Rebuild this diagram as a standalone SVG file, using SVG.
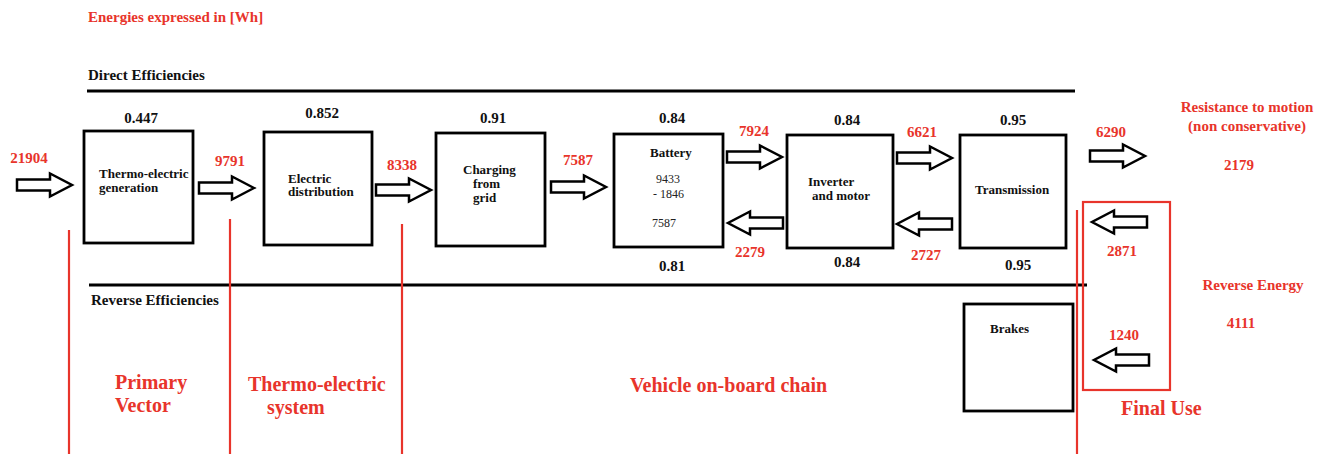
<svg xmlns="http://www.w3.org/2000/svg" width="1333" height="454" viewBox="0 0 1333 454">
<style>
text{font-family:"Liberation Serif","Times New Roman",Times,serif;font-weight:bold}
.red{fill:#e8342b}
.blk{fill:#111}
.t15{font-size:15px}
.t13{font-size:13px}
.t20{font-size:20px}
.num{font-size:12px;font-weight:normal;fill:#222}
.box{fill:#fff;stroke:#000;stroke-width:2.8}
.arr{fill:#fff;stroke:#000;stroke-width:2.5;stroke-linejoin:miter}
.rl{stroke:#e8342b;stroke-width:2.2;fill:none}
.hl{stroke:#000;stroke-width:2.8}
</style>
<defs>
<path id="aR" class="arr" d="M0,-5.5 H33 V-11.5 L55,0 L33,11.5 V5.5 H0 Z"/>
<path id="aL" class="arr" d="M55,-5.5 H22 V-11.5 L0,0 L22,11.5 V5.5 H55 Z"/>
</defs>
<rect width="1333" height="454" fill="#fff"/>

<g id="headers">
<text x="88" y="22" class="red t15">Energies expressed in [Wh]</text>
<text x="88" y="80" class="blk t15">Direct Efficiencies</text>
<line x1="87" y1="91" x2="1075" y2="91" class="hl"/>
<line x1="89" y1="285" x2="1087" y2="285" class="hl"/>
<text x="91" y="305" class="blk t15">Reverse Efficiencies</text>
</g>

<g id="sections">
<line x1="69" y1="230" x2="69" y2="454" class="rl"/>
<line x1="230" y1="219" x2="230" y2="454" class="rl"/>
<line x1="402" y1="224" x2="402" y2="454" class="rl"/>
<line x1="1077" y1="210" x2="1077" y2="454" class="rl"/>
<rect x="1083" y="202" width="87" height="188" class="rl"/>
<text x="115" y="389" class="red t20">Primary</text>
<text x="115" y="412" class="red t20">Vector</text>
<text x="248" y="391" class="red t20">Thermo-electric</text>
<text x="267" y="414" class="red t20">system</text>
<text x="630" y="392" class="red t20">Vehicle on-board chain</text>
<text x="1121" y="415" class="red t20">Final Use</text>
<text x="1247" y="112" class="red t15" text-anchor="middle">Resistance to motion</text>
<text x="1247" y="131" class="red t15" text-anchor="middle">(non conservative)</text>
<text x="1239" y="170" class="red t15" text-anchor="middle">2179</text>
<text x="1253" y="290" class="red t15" text-anchor="middle">Reverse Energy</text>
<text x="1241" y="328" class="red t15" text-anchor="middle">4111</text>
</g>

<g id="node-thermo">
<rect x="84" y="131" width="109" height="112" class="box"/>
<text x="99" y="178" class="blk t13">Thermo-electric</text>
<text x="99" y="192" class="blk t13">generation</text>
<text x="141" y="123" class="blk t15" text-anchor="middle">0.447</text>
</g>
<g id="node-distribution">
<rect x="264" y="132" width="108" height="113" class="box"/>
<text x="288" y="183" class="blk t13">Electric</text>
<text x="288" y="196" class="blk t13">distribution</text>
<text x="322" y="118" class="blk t15" text-anchor="middle">0.852</text>
</g>
<g id="node-charging">
<rect x="436" y="133" width="109" height="113" class="box"/>
<text x="463" y="174" class="blk t13">Charging</text>
<text x="473" y="188" class="blk t13">from</text>
<text x="473" y="202" class="blk t13">grid</text>
<text x="493" y="123" class="blk t15" text-anchor="middle">0.91</text>
</g>
<g id="node-battery">
<rect x="614" y="134" width="109" height="113" class="box"/>
<text x="650" y="157" class="blk t13">Battery</text>
<text x="656" y="183" class="num">9433</text>
<text x="653" y="198" class="num">- 1846</text>
<text x="652" y="227" class="num">7587</text>
<text x="672" y="123" class="blk t15" text-anchor="middle">0.84</text>
<text x="672" y="271" class="blk t15" text-anchor="middle">0.81</text>
</g>
<g id="node-inverter">
<rect x="787" y="135" width="106" height="113" class="box"/>
<text x="808" y="186" class="blk t13">Inverter</text>
<text x="812" y="200" class="blk t13">and motor</text>
<text x="847" y="125" class="blk t15" text-anchor="middle">0.84</text>
<text x="847" y="267" class="blk t15" text-anchor="middle">0.84</text>
</g>
<g id="node-transmission">
<rect x="960" y="135" width="106" height="113" class="box"/>
<text x="975" y="194" class="blk t13">Transmission</text>
<text x="1013" y="125" class="blk t15" text-anchor="middle">0.95</text>
<text x="1018" y="270" class="blk t15" text-anchor="middle">0.95</text>
</g>
<g id="node-brakes">
<rect x="964" y="304" width="109" height="107" class="box"/>
<text x="990" y="333" class="blk t13">Brakes</text>
</g>

<g id="connectors">
<use href="#aR" x="17" y="185"/>
<use href="#aR" x="199" y="188"/>
<use href="#aR" x="376" y="190"/>
<use href="#aR" x="551" y="187"/>
<use href="#aR" x="727" y="157"/>
<use href="#aL" x="728" y="223"/>
<use href="#aR" x="897" y="158"/>
<use href="#aL" x="897" y="224"/>
<use href="#aR" x="1090" y="156"/>
<use href="#aL" x="1092" y="222"/>
<use href="#aL" x="1094" y="360"/>
<text x="29" y="163" class="red t15" text-anchor="middle">21904</text>
<text x="230" y="166" class="red t15" text-anchor="middle">9791</text>
<text x="402" y="170" class="red t15" text-anchor="middle">8338</text>
<text x="578" y="165" class="red t15" text-anchor="middle">7587</text>
<text x="754" y="136" class="red t15" text-anchor="middle">7924</text>
<text x="750" y="257" class="red t15" text-anchor="middle">2279</text>
<text x="922" y="137" class="red t15" text-anchor="middle">6621</text>
<text x="926" y="260" class="red t15" text-anchor="middle">2727</text>
<text x="1111" y="137" class="red t15" text-anchor="middle">6290</text>
<text x="1122" y="256" class="red t15" text-anchor="middle">2871</text>
<text x="1124" y="340" class="red t15" text-anchor="middle">1240</text>
</g>
</svg>
